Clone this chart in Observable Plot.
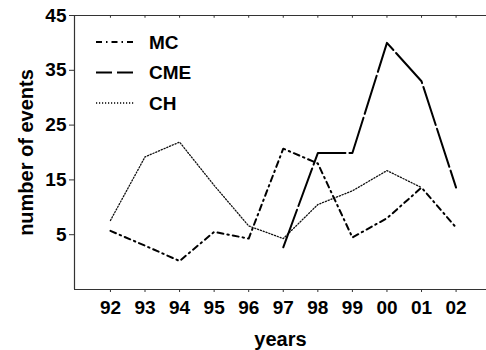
<!DOCTYPE html>
<html>
<head>
<meta charset="utf-8">
<script src="https://cdn.jsdelivr.net/npm/d3@7"></script>
<script src="https://cdn.jsdelivr.net/npm/@observablehq/plot@0.6"></script>
<style>
  html, body { margin: 0; padding: 0; background: #fff; }
  #wrap { position: relative; width: 486px; height: 350px; }
  #legend { position: absolute; left: 0; top: 0; width: 486px; height: 350px; pointer-events: none; }
  #wrap svg g[aria-label="x-axis label"] text, #wrap svg g[aria-label="y-axis label"] text { font-size: 20px; }
</style>
</head>
<body>
<div id="wrap"></div>
<script>
const years = [92, 93, 94, 95, 96, 97, 98, 99, 100, 101, 102];
const yearLabels = ["92", "93", "94", "95", "96", "97", "98", "99", "00", "01", "02"];
const mcValues  = [5.7, 3.0, 0.2, 5.5, 4.3, 20.7, 18.0, 4.5, 8.0, 13.6, 6.3];
const cmeValues = [null, null, null, null, null, 2.7, 19.9, 19.9, 40.0, 33.0, 13.6];
const chValues  = [7.6, 19.2, 21.9, 14.0, 6.6, 4.3, 10.5, 13.0, 16.7, 13.6, null];
const yTicks = [5, 15, 25, 35, 45];
const seriesNames = ["MC", "CME", "CH"];

const styles = {
  MC:  {dash: "6,4,1.5,4", width: 2},
  CME: {dash: "40,4", width: 2},
  CH:  {dash: "1.2,1.8", width: 1.3}
};

function toRows(vals) {
  return years.map((y, i) => ({year: y, value: vals[i]})).filter(d => d.value != null);
}
const mcRows = toRows(mcValues), cmeRows = toRows(cmeValues), chRows = toRows(chValues);

const xDomain = [90.96, 102.88];
const yDomain = [-5, 45];
const fmtYear = d => yearLabels[years.indexOf(d)];

const chart = Plot.plot({
  width: 486,
  height: 350,
  marginLeft: 74,
  marginRight: 0,
  marginTop: 15,
  marginBottom: 61,
  style: {fontFamily: "'Liberation Sans', Arial, sans-serif", fontSize: "19px", fontWeight: "bold", color: "#000", background: "#fff"},
  x: {domain: xDomain},
  y: {domain: yDomain},
  marks: [
    Plot.ruleY([yDomain[0]], {stroke: "#333", strokeWidth: 1.2}),
    Plot.ruleY([yDomain[1]], {stroke: "#333", strokeWidth: 1.2}),
    Plot.ruleX([xDomain[0]], {stroke: "#333", strokeWidth: 1.2}),
    Plot.ruleX(years, {y1: 45, y2: 44.5, stroke: "#333"}),
    Plot.axisX({ticks: years, tickFormat: fmtYear, tickSize: 3, tickPadding: 8, label: "years", labelAnchor: "center", labelOffset: 56, labelArrow: "none", stroke: "#333"}),
    Plot.axisY({ticks: yTicks, tickSize: 5, tickPadding: 3, label: "number of events", labelAnchor: "center", labelOffset: 56, labelArrow: "none", stroke: "#333"}),
    Plot.line(chRows, {x: "year", y: "value", stroke: "#111", strokeWidth: styles.CH.width, strokeDasharray: styles.CH.dash}),
    Plot.line(mcRows, {x: "year", y: "value", stroke: "#000", strokeWidth: styles.MC.width, strokeDasharray: styles.MC.dash}),
    Plot.line(cmeRows, {x: "year", y: "value", stroke: "#000", strokeWidth: styles.CME.width, strokeDasharray: styles.CME.dash})
  ]
});
const wrap = document.getElementById("wrap");
wrap.appendChild(chart);

// legend overlay
const ns = "http://www.w3.org/2000/svg";
const leg = document.createElementNS(ns, "svg");
leg.setAttribute("id", "legend");
leg.setAttribute("width", 486);
leg.setAttribute("height", 350);
seriesNames.forEach((name, i) => {
  const cy = 42 + i * 30.5;
  const line = document.createElementNS(ns, "line");
  line.setAttribute("x1", 96); line.setAttribute("x2", 134);
  line.setAttribute("y1", cy); line.setAttribute("y2", cy);
  line.setAttribute("stroke", "#000");
  line.setAttribute("stroke-width", styles[name].width);
  line.setAttribute("stroke-dasharray", name === "CME" ? "16,5" : styles[name].dash);
  leg.appendChild(line);
  const t = document.createElementNS(ns, "text");
  t.setAttribute("x", 149); t.setAttribute("y", cy);
  t.setAttribute("dy", "0.35em");
  t.setAttribute("font-family", "'Liberation Sans', Arial, sans-serif");
  t.setAttribute("font-size", "19px");
  t.setAttribute("font-weight", "bold");
  t.textContent = name;
  leg.appendChild(t);
});
wrap.appendChild(leg);
</script>
</body>
</html>
